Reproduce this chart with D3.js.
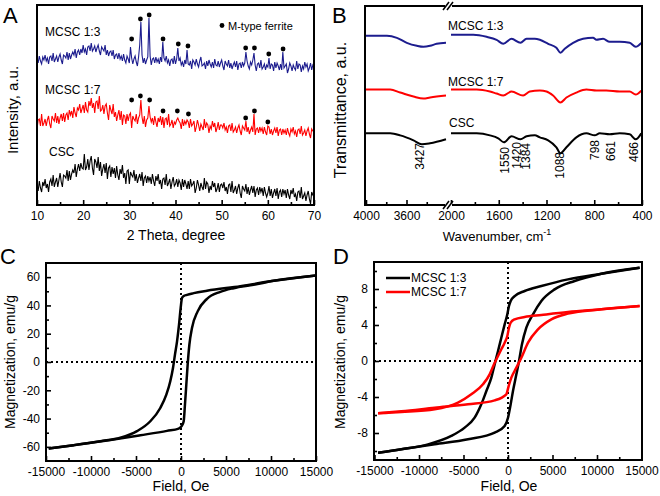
<!DOCTYPE html>
<html><head><meta charset="utf-8">
<script src="https://cdn.jsdelivr.net/npm/d3@7/dist/d3.min.js"></script>
<style>body{margin:0;background:#fff}</style>
</head><body><svg id="c" width="660" height="496"></svg>
<script>
const FONT = "'Liberation Sans', Arial, Helvetica, sans-serif";
const NAVY = "#1c1c8e", RED = "#ff0000", BLACK = "#000000";

// ---------- Panel A: XRD ----------
const xrdTheta = d3.range(10, 70.001, 0.25);
const xrdMCSC13 = [147,142,149,144,141,148,145,150,144,147,141,148,149,144,152,143,146,149,143,148,151,145,141,150,149,147,153,145,152,146,150,153,150,156,147,153,155,150,156,152,
160,153,156,150,158,159,154,162,154,156,159,153,157,160,154,150,158,156,154,160,150,155,149,153,154,149,155,146,150,151,146,152,146,149,144,151,145,142,149,146,
142,158,147,141,146,149,143,139,148,160,183,150,142,147,141,145,148,187,149,140,146,147,142,148,143,146,141,148,143,163,147,144,149,142,145,139,145,146,141,149,
141,146,157,144,147,140,143,138,145,141,155,141,140,144,136,145,143,140,146,141,138,144,148,139,140,142,136,144,139,145,141,138,143,137,146,140,139,144,138,142,
145,139,135,144,141,139,145,137,142,136,140,143,138,144,135,141,142,137,143,139,142,153,144,139,136,143,140,145,152,140,134,141,142,137,145,136,138,141,135,140,
138,147,136,141,140,134,143,137,142,139,135,141,135,153,137,139,141,132,136,142,139,134,140,137,135,144,136,141,140,133,139,136,143,138,141,134,137,142,135,140,138];
const xrdMCSC17 = [76,85,86,79,91,79,82,86,79,85,89,81,77,89,86,84,92,82,89,81,87,91,84,92,83,90,92,85,95,90,94,87,98,92,88,97,95,101,92,96,
100,92,103,95,93,104,99,107,97,102,92,103,104,96,109,94,95,100,91,99,101,92,85,100,95,91,101,88,93,84,90,95,85,94,80,90,89,81,91,84,
90,92,77,89,86,84,91,81,87,90,105,88,81,89,78,85,87,99,88,83,87,80,89,83,78,87,83,89,80,88,77,86,87,80,91,79,81,85,77,83,
81,85,87,84,82,76,86,79,84,81,85,83,77,86,79,81,84,73,78,85,80,74,81,78,75,86,77,82,80,72,79,76,84,78,82,73,77,83,75,80,
80,77,82,75,78,72,79,80,74,82,73,75,78,72,77,80,74,70,79,77,75,84,73,78,71,75,78,73,91,70,76,77,72,78,74,77,71,78,73,70,
79,78,71,76,70,74,77,72,78,69,75,76,70,76,72,75,70,77,72,69,76,73,78,71,74,68,75,76,71,79,70,72,75,69,74,77,71,67,76,74,73];
const xrdCSC = [21,14,24,17,13,23,19,26,17,21,13,23,26,19,30,18,23,27,18,25,32,23,18,30,29,27,35,24,34,25,31,35,32,41,28,36,41,34,42,37,
36,51,35,38,46,35,44,49,37,30,46,43,37,48,34,43,29,36,41,32,42,26,37,39,28,38,31,37,27,39,30,25,36,31,40,27,32,21,34,35,
21,33,30,28,35,24,31,22,27,31,24,33,19,27,29,22,29,24,28,21,31,24,19,29,24,31,21,25,16,26,27,20,31,19,22,26,16,23,28,19,
21,26,18,25,22,15,26,18,25,21,16,24,16,26,19,21,24,12,17,25,20,14,22,18,15,27,16,23,21,12,19,15,24,18,22,13,16,22,13,20,
21,17,23,14,18,11,20,21,13,24,12,15,19,11,17,21,12,7,19,16,14,21,11,18,10,15,19,12,19,8,15,17,10,18,13,17,9,18,12,8,
12,19,9,16,7,12,16,9,17,6,13,15,8,16,11,15,7,16,10,6,15,11,17,8,11,4,13,14,7,18,6,9,12,4,10,14,6,1,13,10,8];
const xrdTicks = [10,20,30,40,50,60,70];
const xrdMinor = [15,25,35,45,55,65];
const peaksMCSC13 = [[30.5,166],[32.4,186],[34.3,190],[37.3,166],[40.6,161],[42.7,159],[55.2,157],[57.1,157],[60.2,151],[63.3,156]];
const peaksMCSC17 = [[30.5,105],[32.4,109],[34.4,105],[37.3,94],[40.4,94],[42.8,91],[55.2,87],[57.1,94],[60.0,83]];

// ---------- Panel B: FTIR ----------
const ftirLeft13  = [[4000,170],[3793,170],[3695,168],[3597,163],[3498,160],[3433,159],[3367,160],[3302,162],[3210,163]];
const ftirRight13 = [[2000,171],[1813,171],[1702,169],[1618,166],[1562,162],[1493,167],[1418,163],[1367,167],[1298,167],[1256,166],[1186,162],[1117,158],[1083,153],[1047,157],[977,163],[894,167],[810,168],[782,166],[726,167],[671,164],[587,164],[503,163],[453,159],[406,163]];
const ftirLeft17  = [[4000,116],[3761,116],[3662,113],[3531,109],[3433,107],[3367,108],[3210,110]];
const ftirRight17 = [[2000,116],[1785,116],[1674,114],[1618,112],[1562,110],[1493,114],[1396,110],[1340,114],[1256,115],[1200,114],[1145,110],[1083,103],[1033,108],[950,113],[866,116],[782,115],[699,115],[587,114],[503,114],[453,111],[406,115]];
const ftirLeftCSC  = [[4000,72],[3761,72],[3662,70],[3531,65],[3449,61],[3367,62],[3210,66]];
const ftirRightCSC = [[2000,72],[1785,72],[1674,70],[1604,67],[1557,63],[1493,69],[1418,66],[1367,69],[1298,70],[1256,68],[1186,65],[1117,58],[1083,52],[1033,58],[950,68],[866,72],[796,70],[754,72],[671,71],[587,72],[503,71],[453,66],[406,72]];
const ftirBands = [["3427",3427,143],["1550",1550,147],["1420",1420,142],["1384",1384,143],["1088",1088,152],["798",798,140],["661",661,141],["466",466,142]];
const ftirTicksL = [4000,3600], ftirMinorL = [3800,3400];
const ftirTicksR = [2000,1600,1200,800,400], ftirMinorR = [1800,1400,1000,600];

// ---------- Panel C ----------
const mhCUpper = [[15000,61.2],[10300,57.4],[6590,53.6],[2890,50.4],[1410,48.7],[670,47.5],[300,46.6],[110,45.2],[-40,38.1],[-220,26.4],[-440,14.6],[-670,5.2],[-890,-4.2],[-1190,-13.6],[-1630,-23.1],[-2300,-32.5],[-3410,-41.9],[-4890,-48.9],[-6740,-53.6],[-8960,-56.0],[-11930,-58.8],[-14700,-61.2]];
const mhCLower = [[-14700,-61.2],[-11930,-58.8],[-8220,-55.5],[-4520,-51.8],[-1560,-48.7],[-260,-47.1],[70,-45.4],[300,-41.9],[440,-30.1],[590,-16.0],[740,-1.9],[930,12.2],[1220,24.0],[1850,35.8],[2890,44.7],[4370,49.6],[5850,52.2],[8070,54.6],[10300,57.4],[15000,61.2]];
const mhCYTicks = [-60,-40,-20,0,20,40,60], mhCYMinor = [-50,-30,-10,10,30,50];
const fieldTicks = [-15000,-10000,-5000,0,5000,10000,15000];
const fieldMinor = [-12500,-7500,-2500,2500,7500,12500];

// ---------- Panel D ----------
const mhD13Upper = [[14790,10.37],[10490,9.7],[6740,9.07],[3750,8.33],[1870,7.78],[750,7.22],[300,6.67],[110,6.11],[-75,5.19],[-375,4.07],[-750,2.59],[-1120,1.11],[-1500,-0.37],[-1870,-1.85],[-2430,-3.33],[-3000,-4.81],[-3750,-6.3],[-4870,-7.4],[-6370,-8.33],[-8990,-9.26],[-11980,-9.81],[-14600,-10.19]];
const mhD13Lower = [[-14600,-10.19],[-11980,-9.81],[-8240,-9.26],[-4490,-8.7],[-1500,-7.96],[-375,-7.22],[0,-6.3],[300,-4.81],[560,-3.33],[940,-1.48],[1240,0],[1570,1.85],[2060,3.7],[2810,5.19],[3750,6.67],[5240,7.96],[7490,8.89],[10490,9.7],[14790,10.37]];
const mhD17Upper = [[14790,6.11],[10490,5.74],[6740,5.44],[3750,5.11],[1870,4.89],[750,4.63],[300,4.26],[110,3.7],[-75,2.78],[-375,2.04],[-750,1.3],[-1120,0.56],[-1570,-0.37],[-2060,-1.48],[-2810,-2.59],[-4120,-3.7],[-5620,-4.63],[-8240,-5.37],[-11980,-5.67],[-14600,-5.81]];
const mhD17Lower = [[-14600,-5.81],[-11980,-5.59],[-8240,-5.19],[-4490,-4.81],[-1500,-4.37],[-190,-3.7],[75,-2.78],[375,-1.85],[940,-0.74],[1500,0.37],[2250,2.04],[3370,3.52],[4870,4.63],[6740,5.26],[10490,5.74],[14790,6.11]];
const mhDYTicks = [-8,-4,0,4,8], mhDYMinor = [-10,-6,-2,2,6,10];

// ================= drawing =================
const svg = d3.select("#c");
const fmt = d => String(d);

function txt(g, x, y, s, size, opts = {}) {
  const t = g.append("text").attr("x", x).attr("y", y).attr("font-family", FONT)
    .attr("font-size", size).attr("fill", opts.fill || "#000").text(s);
  if (opts.anchor) t.attr("text-anchor", opts.anchor);
  if (opts.rotate) t.attr("transform", `rotate(-90,${x},${y})`);
  return t;
}
function styleAxis(a) {
  a.select(".domain").remove();
  a.selectAll("text").attr("font-family", FONT).attr("font-size", 12).attr("fill", "#000");
  a.selectAll("line").attr("stroke", "#000").attr("stroke-width", 1.6);
}
function xAxis(scale, y, majors, minors) {
  const a = svg.append("g").attr("transform", `translate(0,${y})`)
    .call(d3.axisBottom(scale).tickValues(majors).tickSize(-5).tickPadding(6).tickFormat(fmt));
  styleAxis(a);
  const m = svg.append("g").attr("transform", `translate(0,${y})`)
    .call(d3.axisBottom(scale).tickValues(minors).tickSize(-3).tickFormat(""));
  styleAxis(m);
}
function yAxis(scale, x, majors, minors) {
  const a = svg.append("g").attr("transform", `translate(${x},0)`)
    .call(d3.axisLeft(scale).tickValues(majors).tickSize(-5).tickPadding(6).tickFormat(fmt));
  styleAxis(a);
  const m = svg.append("g").attr("transform", `translate(${x},0)`)
    .call(d3.axisLeft(scale).tickValues(minors).tickSize(-3).tickFormat(""));
  styleAxis(m);
}
function frame(x0, y0, x1, y1) {
  svg.append("rect").attr("x", x0).attr("y", y0).attr("width", x1 - x0).attr("height", y1 - y0)
    .attr("fill", "none").attr("stroke", "#000").attr("stroke-width", 2);
}
const byField = s => s.slice().sort((a, b) => a[0] - b[0]);

// ---- Panel A ----
{
  const x = d3.scaleLinear().domain([10, 70]).range([37, 314]);
  const y = d3.scaleLinear().domain([0, 200]).range([205, 5]);
  const line = d3.line().x((d, i) => x(xrdTheta[i])).y(d => y(d));
  [[xrdMCSC13, NAVY], [xrdMCSC17, RED], [xrdCSC, BLACK]].forEach(([s, c]) => {
    svg.append("path").attr("d", line(s)).attr("fill", "none").attr("stroke", c).attr("stroke-width", 1.1);
  });
  [...peaksMCSC13, ...peaksMCSC17].forEach(p => {
    svg.append("circle").attr("cx", x(p[0])).attr("cy", y(p[1])).attr("r", 2.4).attr("fill", "#000");
  });
  svg.append("circle").attr("cx", 222).attr("cy", 25.5).attr("r", 2.4).attr("fill", "#000");
  txt(svg, 228, 30, "M-type ferrite", 11);
  txt(svg, 45, 36, "MCSC 1:3", 12);
  txt(svg, 45, 94, "MCSC 1:7", 12);
  txt(svg, 49, 156, "CSC", 12);
  xAxis(x, 205, xrdTicks, xrdMinor);
  frame(37, 5, 314, 205);
  txt(svg, 176, 240, "2 Theta, degree", 14, { anchor: "middle" });
  txt(svg, 18, 110, "Intensity, a.u.", 15, { anchor: "middle", rotate: true });
  txt(svg, 3, 23, "A", 22);
}

// ---- Panel B ----
{
  const xL = d3.scaleLinear().domain([4000, 3200]).range([366, 447]);
  const xR = d3.scaleLinear().domain([2000, 400]).range([451, 642]);
  const y = d3.scaleLinear().domain([0, 200]).range([205, 6]);
  const lineL = d3.line().x(d => xL(d[0])).y(d => y(d[1])).curve(d3.curveMonotoneX);
  const lineR = d3.line().x(d => xR(d[0])).y(d => y(d[1])).curve(d3.curveMonotoneX);
  [[ftirLeft13, ftirRight13, NAVY], [ftirLeft17, ftirRight17, RED], [ftirLeftCSC, ftirRightCSC, BLACK]].forEach(([l, r, c]) => {
    svg.append("path").attr("d", lineL(l)).attr("fill", "none").attr("stroke", c).attr("stroke-width", 2);
    svg.append("path").attr("d", lineR(r)).attr("fill", "none").attr("stroke", c).attr("stroke-width", 2);
  });
  txt(svg, 448, 29.5, "MCSC 1:3", 12);
  txt(svg, 448, 85.5, "MCSC 1:7", 12);
  txt(svg, 449, 127, "CSC", 12);
  const nudge = { "3427": -4, "1420": -3, "1384": 1.5 };
  ftirBands.forEach(([s, wn, top]) => {
    const xx = (wn > 2000 ? xL(wn) : xR(wn)) + (nudge[s] || 0);
    txt(svg, xx, top, s, 12, { anchor: "end", rotate: true }).attr("dy", "0.35em");
  });
  xAxis(xL, 205, ftirTicksL, ftirMinorL);
  xAxis(xR, 205, ftirTicksR, ftirMinorR);
  frame(365, 6, 642, 205);
  [6, 205].forEach(yy => {
    svg.append("rect").attr("x", 445).attr("y", yy - 2).attr("width", 7).attr("height", 4).attr("fill", "#fff");
    [0, 4].forEach(dx => svg.append("line").attr("x1", 443 + dx).attr("y1", yy + 4).attr("x2", 449 + dx).attr("y2", yy - 4)
      .attr("stroke", "#000").attr("stroke-width", 1.5));
  });
  const t = txt(svg, 497, 241, "Wavenumber, cm", 13, { anchor: "middle" });
  t.append("tspan").attr("dy", -6).attr("font-size", 9).text("-1");
  txt(svg, 346, 110, "Transmittance, a.u.", 16, { anchor: "middle", rotate: true });
  txt(svg, 332, 23, "B", 22);
}

// ---- Panel C ----
{
  const x = d3.scaleLinear().domain([-15000, 15000]).range([46, 316]);
  const y = d3.scaleLinear().domain([-70, 70]).range([461, 263]);
  const line = d3.line().x(d => x(d[0])).y(d => y(d[1])).curve(d3.curveMonotoneX);
  svg.append("line").attr("x1", x(0)).attr("x2", x(0)).attr("y1", 263).attr("y2", 461)
    .attr("stroke", "#000").attr("stroke-width", 2).attr("stroke-dasharray", "2,3");
  svg.append("line").attr("x1", 46).attr("x2", 316).attr("y1", y(0)).attr("y2", y(0))
    .attr("stroke", "#000").attr("stroke-width", 2).attr("stroke-dasharray", "2,3");
  [mhCUpper, mhCLower].forEach(s => svg.append("path").attr("d", line(byField(s))).attr("fill", "none")
    .attr("stroke", "#000").attr("stroke-width", 2.5));
  xAxis(x, 461, fieldTicks, fieldMinor);
  yAxis(y, 46, mhCYTicks, mhCYMinor);
  frame(46, 263, 316, 461);
  txt(svg, 181, 491, "Field, Oe", 14, { anchor: "middle" });
  txt(svg, 15, 362, "Magnetization, emu/g", 14, { anchor: "middle", rotate: true });
  txt(svg, 0, 264, "C", 22);
}

// ---- Panel D ----
{
  const x = d3.scaleLinear().domain([-15000, 15000]).range([374.5, 641.5]);
  const y = d3.scaleLinear().domain([-11, 11]).range([460, 262]);
  const line = d3.line().x(d => x(d[0])).y(d => y(d[1])).curve(d3.curveMonotoneX);
  svg.append("line").attr("x1", x(0)).attr("x2", x(0)).attr("y1", 262).attr("y2", 460)
    .attr("stroke", "#000").attr("stroke-width", 2).attr("stroke-dasharray", "2,3");
  svg.append("line").attr("x1", 374).attr("x2", 642).attr("y1", y(0)).attr("y2", y(0))
    .attr("stroke", "#000").attr("stroke-width", 2).attr("stroke-dasharray", "2,3");
  [[mhD13Upper, BLACK], [mhD13Lower, BLACK], [mhD17Upper, RED], [mhD17Lower, RED]].forEach(([s, c]) =>
    svg.append("path").attr("d", line(byField(s))).attr("fill", "none").attr("stroke", c).attr("stroke-width", 2.5));
  [["MCSC 1:3", BLACK, 278], ["MCSC 1:7", RED, 292]].forEach(([s, c, yy]) => {
    svg.append("line").attr("x1", 386).attr("x2", 410).attr("y1", yy).attr("y2", yy).attr("stroke", c).attr("stroke-width", 2.5);
    txt(svg, 411, yy + 4.3, s, 12);
  });
  xAxis(x, 460, fieldTicks, fieldMinor);
  yAxis(y, 374, mhDYTicks, mhDYMinor);
  frame(374, 262, 642, 460);
  txt(svg, 509, 491, "Field, Oe", 14, { anchor: "middle" });
  txt(svg, 345, 362, "Magnetization, emu/g", 14, { anchor: "middle", rotate: true });
  txt(svg, 333, 264, "D", 22);
}
</script></body></html>
